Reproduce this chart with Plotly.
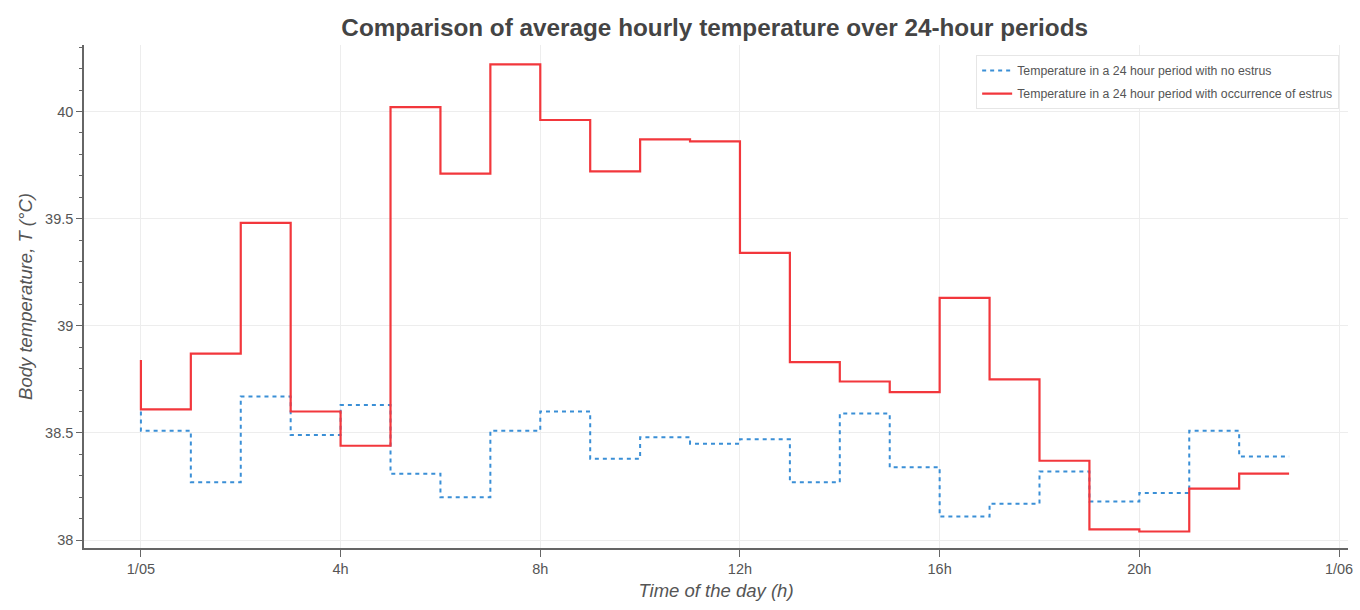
import plotly.graph_objects as go

hours = list(range(24))
# step values: value at hour i applies to interval (i-1, i]  (first point is the start)
no_estrus = [38.60, 38.51, 38.27, 38.67, 38.49, 38.63, 38.31, 38.20, 38.51, 38.60,
             38.38, 38.48, 38.45, 38.47, 38.27, 38.59, 38.34, 38.11, 38.17, 38.32,
             38.18, 38.22, 38.51, 38.39]
estrus = [38.84, 38.61, 38.87, 39.48, 38.60, 38.44, 40.02, 39.71, 40.22, 39.96,
          39.72, 39.87, 39.86, 39.34, 38.83, 38.74, 38.69, 39.13, 38.75, 38.37,
          38.05, 38.04, 38.24, 38.31]
x_tickvals = [0, 4, 8, 12, 16, 20, 24]
x_ticktext = ['1/05', '4h', '8h', '12h', '16h', '20h', '1/06']
y_tickvals = [38, 38.5, 39, 39.5, 40]
y_ticktext = ['38', '38.5', '39', '39.5', '40']

fig = go.Figure()
fig.add_trace(go.Scatter(
    x=hours, y=no_estrus, mode='lines', legendgroup='a',
    line=dict(shape='vh', color='#3a8fd6', width=2, dash='4px,4px'),
    name='Temperature in a 24 hour period with no estrus'))
fig.add_trace(go.Scatter(
    x=hours, y=estrus, mode='lines', legendgroup='b',
    line=dict(shape='vh', color='#f2373c', width=2.2),
    name='Temperature in a 24 hour period with occurrence of estrus'))

FONT = 'Liberation Sans, Arial, sans-serif'
axis_font = dict(family=FONT, size=14.5, color='#555')
fig.update_layout(
    width=1360, height=610,
    margin=dict(l=84, r=7, t=45, b=62),
    paper_bgcolor='white', plot_bgcolor='white',
    title=dict(text='<b>Comparison of average hourly temperature over 24-hour periods</b>',
               x=0.5255, xanchor='center', y=0.955, yanchor='middle', yref='container',
               font=dict(family=FONT, size=24.3, color='#444')),
    font=dict(family=FONT, color='#555'),
    showlegend=True,
    legend=dict(x=0.993, xanchor='right', y=0.98, yanchor='top',
                bgcolor='white', bordercolor='#e6e6e6', borderwidth=1,
                font=dict(size=12.3, color='#555'), itemwidth=30,
                tracegroupgap=4),
    xaxis=dict(range=[-1.14, 24.18], tickmode='array', tickvals=x_tickvals,
               ticktext=x_ticktext, showgrid=True, gridcolor='#ededed', gridwidth=1,
               zeroline=False, showline=True, linecolor='#666', linewidth=1.5,
               ticks='outside', ticklen=7, tickcolor='#666', tickfont=axis_font,
               title=dict(text='<i>Time of the day (h)</i>', font=dict(size=18.5, color='#555'),
                          standoff=8)),
    yaxis=dict(range=[37.963, 40.31], tickmode='array', tickvals=y_tickvals,
               ticktext=y_ticktext, showgrid=True, gridcolor='#ededed', gridwidth=1,
               zeroline=False, showline=True, linecolor='#666', linewidth=1.5,
               ticks='outside', ticklen=6, tickcolor='#666', tickfont=axis_font,
               minor=dict(dtick=0.1, tick0=38, ticks='outside', ticklen=3,
                          tickcolor='#666', showgrid=False),
               title=dict(text='<i>Body temperature, T (°C)</i>', font=dict(size=18.5, color='#555'),
                          standoff=8)),
)

fig.write_html('out.html')
